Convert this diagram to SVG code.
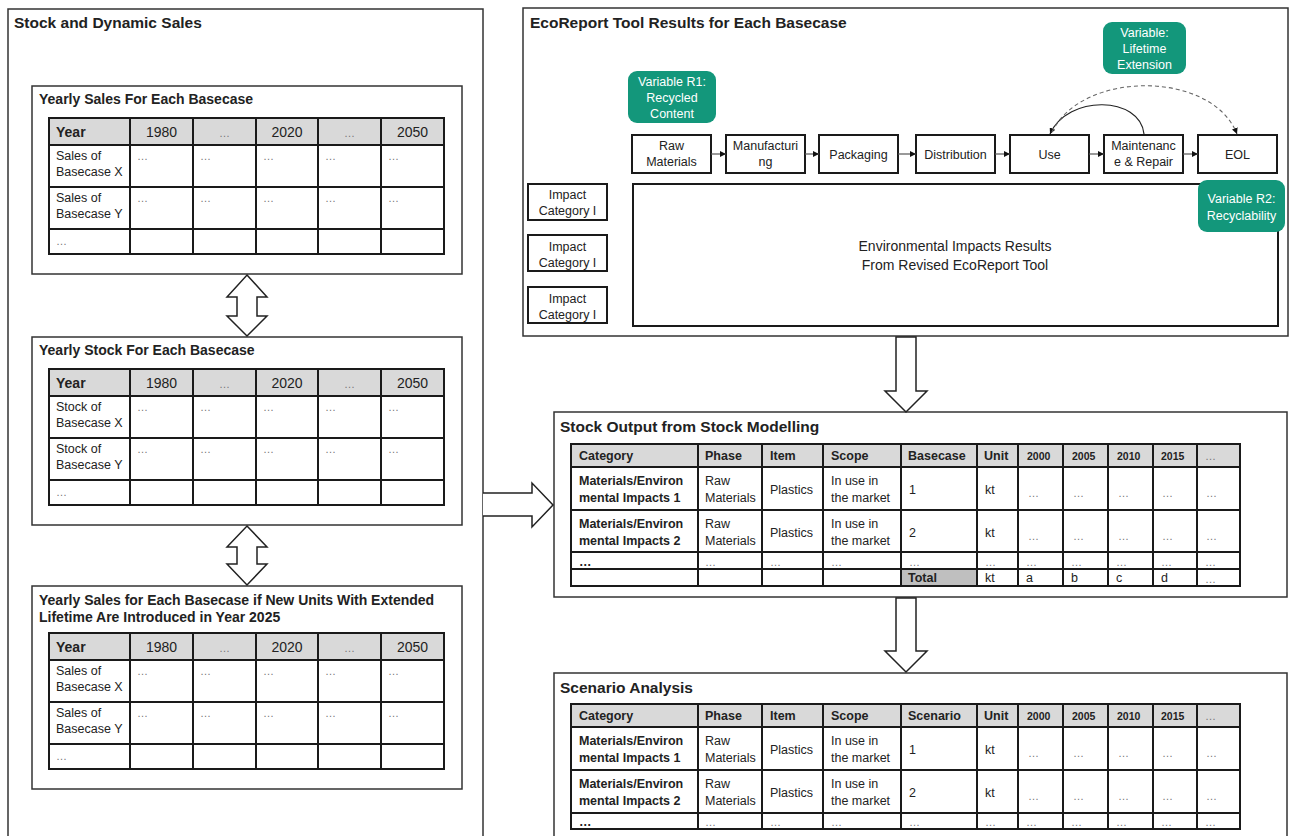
<svg xmlns="http://www.w3.org/2000/svg" xmlns:xlink="http://www.w3.org/1999/xlink" width="1290" height="836" viewBox="0 0 1290 836">
<style>
.box{fill:#fff;stroke:#333;stroke-width:1.5}
.pbox{fill:#fff;stroke:#1a1a1a;stroke-width:2}
.grid{fill:none;stroke:#1a1a1a;stroke-width:2}
.hdr{fill:#d9d9d9}
.tot{fill:#bfbfbf}
.big{fill:#fff;stroke:#222;stroke-width:1.5}
.gr{fill:#13977b}
text{font-family:"Liberation Sans",Arial,sans-serif;fill:#222}
.title{font-weight:bold;font-size:15.5px}
.sub{font-weight:bold;font-size:14px}
.c{font-size:12.5px}
.cm{font-size:12.5px;text-anchor:middle}
.b{font-size:12.5px;font-weight:bold}
.yr{font-size:10.5px;font-weight:bold}
.hy{font-size:14px;text-anchor:middle}
.dots{font-size:11px;fill:#777}
.dm{font-size:11px;fill:#777;text-anchor:middle}
.w{fill:#fff;font-size:12.5px;text-anchor:middle}
.env{font-size:14px;text-anchor:middle}
.conn{stroke:#555;stroke-width:1.2;fill:none}
</style>
<defs>
<marker id="ah" viewBox="0 0 10 10" refX="10" refY="5" markerWidth="6" markerHeight="6" markerUnits="userSpaceOnUse" orient="auto"><path d="M0,0 L10,5 L0,10 Z" fill="#111"/></marker>
<g id="ygrid">
<rect class="hdr" x="0" y="0" width="395" height="27"/>
<rect class="grid" x="0" y="0" width="395" height="136"/>
<path class="grid" d="M0,27 H395 M0,69 H395 M0,111 H395 M81,0 V136 M144,0 V136 M207,0 V136 M269,0 V136 M332,0 V136"/>
<text class="sub" x="7" y="19">Year</text>
<text class="hy" x="112.5" y="19">1980</text>
<text class="dm" x="175.5" y="19">…</text>
<text class="hy" x="238" y="19">2020</text>
<text class="dm" x="300.5" y="19">…</text>
<text class="hy" x="363.5" y="19">2050</text>
<text class="dots" x="88" y="42">…</text><text class="dots" x="151" y="42">…</text><text class="dots" x="214" y="42">…</text><text class="dots" x="276" y="42">…</text><text class="dots" x="339" y="42">…</text>
<text class="dots" x="88" y="84">…</text><text class="dots" x="151" y="84">…</text><text class="dots" x="214" y="84">…</text><text class="dots" x="276" y="84">…</text><text class="dots" x="339" y="84">…</text>
<text class="dots" x="7" y="127">…</text>
</g>
</defs>
<rect width="1290" height="836" fill="#fff"/>

<g id="stock-dynamic-sales">
<rect class="box" x="8" y="9" width="475" height="845"/>
<text class="title" x="14" y="28">Stock and Dynamic Sales</text>
</g>

<g id="yearly-sales">
<rect class="box" x="32" y="86" width="430" height="188"/>
<text class="sub" x="39" y="104">Yearly Sales For Each Basecase</text>
<use xlink:href="#ygrid" x="49" y="118"/>
<text class="c" x="56" y="160">Sales of</text><text class="c" x="56" y="176">Basecase X</text>
<text class="c" x="56" y="202">Sales of</text><text class="c" x="56" y="218">Basecase Y</text>
</g>

<g id="yearly-stock">
<rect class="box" x="32" y="337" width="430" height="188"/>
<text class="sub" x="39" y="355">Yearly Stock For Each Basecase</text>
<use xlink:href="#ygrid" x="49" y="369"/>
<text class="c" x="56" y="411">Stock of</text><text class="c" x="56" y="427">Basecase X</text>
<text class="c" x="56" y="453">Stock of</text><text class="c" x="56" y="469">Basecase Y</text>
</g>

<g id="yearly-sales-extended">
<rect class="box" x="32" y="586" width="430" height="203"/>
<text class="sub" x="39" y="605">Yearly Sales for Each Basecase if New Units With Extended</text>
<text class="sub" x="39" y="622">Lifetime Are Introduced in Year 2025</text>
<use xlink:href="#ygrid" x="49" y="633"/>
<text class="c" x="56" y="675">Sales of</text><text class="c" x="56" y="691">Basecase X</text>
<text class="c" x="56" y="717">Sales of</text><text class="c" x="56" y="733">Basecase Y</text>
</g>

<g id="ecoreport">
<rect class="box" x="523" y="8" width="765" height="328"/>
<text class="title" x="530" y="28">EcoReport Tool Results for Each Basecase</text>
</g>

<g id="var-r1">
<rect class="gr" x="628" y="71" width="88" height="52" rx="9"/>
<text class="w" x="672" y="86">Variable R1:</text>
<text class="w" x="672" y="102">Recycled</text>
<text class="w" x="672" y="118">Content</text>
</g>
<g id="var-lifetime">
<rect class="gr" x="1103" y="22" width="83" height="52" rx="9"/>
<text class="w" x="1144.5" y="37">Variable:</text>
<text class="w" x="1144.5" y="53">Lifetime</text>
<text class="w" x="1144.5" y="69">Extension</text>
</g>

<g id="raw-materials"><rect class="pbox" x="632" y="135" width="79" height="38"/><text class="cm" x="671.5" y="150">Raw</text><text class="cm" x="671.5" y="166">Materials</text></g>
<g id="manufacturing"><rect class="pbox" x="726" y="135" width="79" height="38"/><text class="cm" x="765.5" y="150">Manufacturi</text><text class="cm" x="765.5" y="166">ng</text></g>
<g id="packaging"><rect class="pbox" x="819" y="135" width="79" height="38"/><text class="cm" x="858.5" y="159">Packaging</text></g>
<g id="distribution"><rect class="pbox" x="916" y="135" width="79" height="38"/><text class="cm" x="955.5" y="159">Distribution</text></g>
<g id="use"><rect class="pbox" x="1010" y="135" width="79" height="38"/><text class="cm" x="1049.5" y="159">Use</text></g>
<g id="maintenance"><rect class="pbox" x="1104" y="135" width="79" height="38"/><text class="cm" x="1143.5" y="150">Maintenanc</text><text class="cm" x="1143.5" y="166">e &amp; Repair</text></g>
<g id="eol"><rect class="pbox" x="1198" y="135" width="79" height="38"/><text class="cm" x="1237.5" y="159">EOL</text></g>

<g id="impact-1"><rect class="pbox" x="528" y="184" width="79" height="36"/><text class="cm" x="567.5" y="199">Impact</text><text class="cm" x="567.5" y="215">Category I</text></g>
<g id="impact-2"><rect class="pbox" x="528" y="235" width="79" height="36"/><text class="cm" x="567.5" y="251">Impact</text><text class="cm" x="567.5" y="267">Category I</text></g>
<g id="impact-3"><rect class="pbox" x="528" y="287" width="79" height="36"/><text class="cm" x="567.5" y="303">Impact</text><text class="cm" x="567.5" y="319">Category I</text></g>

<g id="env-results">
<rect class="pbox" x="633" y="184" width="645" height="142"/>
<text class="env" x="955" y="251">Environmental Impacts Results</text>
<text class="env" x="955" y="270">From Revised EcoReport Tool</text>
</g>
<g id="var-r2">
<rect class="gr" x="1198" y="180" width="87" height="52" rx="9"/>
<text class="w" x="1241.5" y="203">Variable R2:</text>
<text class="w" x="1241.5" y="220">Recyclability</text>
</g>

<g id="stock-output">
<rect class="box" x="554" y="412" width="733" height="185"/>
<text class="title" x="560" y="432">Stock Output from Stock Modelling</text>
<rect class="hdr" x="571" y="444" width="669" height="23"/>
<rect class="tot" x="901" y="569" width="76" height="17"/>
<rect class="grid" x="571" y="444" width="669" height="142"/>
<path class="grid" d="M571,467 H1240 M571,510 H1240 M571,552 H1240 M571,569 H1240 M698,444 V586 M762,444 V586 M823,444 V586 M901,444 V586 M977,444 V586 M1018,444 V586 M1063,444 V586 M1108,444 V586 M1153,444 V586 M1197,444 V586"/>
<text class="b" x="579" y="460">Category</text><text class="b" x="705" y="460">Phase</text><text class="b" x="770" y="460">Item</text><text class="b" x="831" y="460">Scope</text><text class="b" x="908" y="460">Basecase</text><text class="b" x="984" y="460">Unit</text>
<text class="yr" x="1027" y="460">2000</text><text class="yr" x="1072" y="460">2005</text><text class="yr" x="1117" y="460">2010</text><text class="yr" x="1161" y="460">2015</text><text class="dots" x="1205" y="460">…</text>
<text class="b" x="579" y="485">Materials/Environ</text><text class="b" x="579" y="502">mental Impacts 1</text>
<text class="c" x="705" y="485">Raw</text><text class="c" x="705" y="502">Materials</text>
<text class="c" x="770" y="494">Plastics</text>
<text class="c" x="831" y="485">In use in</text><text class="c" x="831" y="502">the market</text>
<text class="c" x="909" y="494">1</text><text class="c" x="985" y="494">kt</text>
<text class="dots" x="1028" y="497">…</text><text class="dots" x="1073" y="497">…</text><text class="dots" x="1118" y="497">…</text><text class="dots" x="1162" y="497">…</text><text class="dots" x="1206" y="497">…</text>
<text class="b" x="579" y="528">Materials/Environ</text><text class="b" x="579" y="545">mental Impacts 2</text>
<text class="c" x="705" y="528">Raw</text><text class="c" x="705" y="545">Materials</text>
<text class="c" x="770" y="537">Plastics</text>
<text class="c" x="831" y="528">In use in</text><text class="c" x="831" y="545">the market</text>
<text class="c" x="909" y="537">2</text><text class="c" x="985" y="537">kt</text>
<text class="dots" x="1028" y="540">…</text><text class="dots" x="1073" y="540">…</text><text class="dots" x="1118" y="540">…</text><text class="dots" x="1162" y="540">…</text><text class="dots" x="1206" y="540">…</text>
<text class="b" x="579" y="566">…</text><text class="dots" x="705" y="566">…</text><text class="dots" x="770" y="566">…</text><text class="dots" x="831" y="566">…</text><text class="dots" x="909" y="566">…</text><text class="dots" x="985" y="566">…</text><text class="dots" x="1026" y="566">…</text><text class="dots" x="1071" y="566">…</text><text class="dots" x="1116" y="566">…</text><text class="dots" x="1161" y="566">…</text><text class="dots" x="1205" y="566">…</text>
<text class="b" x="908" y="582">Total</text><text class="c" x="985" y="582">kt</text><text class="c" x="1026" y="582">a</text><text class="c" x="1071" y="582">b</text><text class="c" x="1116" y="582">c</text><text class="c" x="1161" y="582">d</text><text class="dots" x="1205" y="583">…</text>
</g>

<g id="scenario-analysis">
<rect class="box" x="554" y="673" width="733" height="180"/>
<text class="title" x="560" y="693">Scenario Analysis</text>
<rect class="hdr" x="571" y="704" width="669" height="23"/>
<rect class="grid" x="571" y="704" width="669" height="125"/>
<path class="grid" d="M571,727 H1240 M571,770 H1240 M571,813 H1240 M698,704 V829 M762,704 V829 M823,704 V829 M901,704 V829 M977,704 V829 M1018,704 V829 M1063,704 V829 M1108,704 V829 M1153,704 V829 M1197,704 V829"/>
<text class="b" x="579" y="720">Category</text><text class="b" x="705" y="720">Phase</text><text class="b" x="770" y="720">Item</text><text class="b" x="831" y="720">Scope</text><text class="b" x="908" y="720">Scenario</text><text class="b" x="984" y="720">Unit</text>
<text class="yr" x="1027" y="720">2000</text><text class="yr" x="1072" y="720">2005</text><text class="yr" x="1117" y="720">2010</text><text class="yr" x="1161" y="720">2015</text><text class="dots" x="1205" y="720">…</text>
<text class="b" x="579" y="745">Materials/Environ</text><text class="b" x="579" y="762">mental Impacts 1</text>
<text class="c" x="705" y="745">Raw</text><text class="c" x="705" y="762">Materials</text>
<text class="c" x="770" y="754">Plastics</text>
<text class="c" x="831" y="745">In use in</text><text class="c" x="831" y="762">the market</text>
<text class="c" x="909" y="754">1</text><text class="c" x="985" y="754">kt</text>
<text class="dots" x="1028" y="757">…</text><text class="dots" x="1073" y="757">…</text><text class="dots" x="1118" y="757">…</text><text class="dots" x="1162" y="757">…</text><text class="dots" x="1206" y="757">…</text>
<text class="b" x="579" y="788">Materials/Environ</text><text class="b" x="579" y="805">mental Impacts 2</text>
<text class="c" x="705" y="788">Raw</text><text class="c" x="705" y="805">Materials</text>
<text class="c" x="770" y="797">Plastics</text>
<text class="c" x="831" y="788">In use in</text><text class="c" x="831" y="805">the market</text>
<text class="c" x="909" y="797">2</text><text class="c" x="985" y="797">kt</text>
<text class="dots" x="1028" y="800">…</text><text class="dots" x="1073" y="800">…</text><text class="dots" x="1118" y="800">…</text><text class="dots" x="1162" y="800">…</text><text class="dots" x="1206" y="800">…</text>
<text class="b" x="579" y="826">…</text><text class="dots" x="705" y="826">…</text><text class="dots" x="770" y="826">…</text><text class="dots" x="831" y="826">…</text><text class="dots" x="909" y="826">…</text><text class="dots" x="985" y="826">…</text><text class="dots" x="1026" y="826">…</text><text class="dots" x="1071" y="826">…</text><text class="dots" x="1116" y="826">…</text><text class="dots" x="1161" y="826">…</text><text class="dots" x="1205" y="826">…</text>
</g>

<g id="connectors">
<path class="big" d="M247,275 L267,297 L257,297 L257,316 L267,316 L247,336 L227,316 L237,316 L237,297 L227,297 Z"/>
<path class="big" d="M247,526 L267,547 L257,547 L257,564 L267,564 L247,585 L227,564 L237,564 L237,547 L227,547 Z"/>
<path class="big" d="M483,493 L532,493 L532,483 L553,505 L532,527 L532,516 L483,516"/>
<path class="big" d="M896,337 L916,337 L916,391 L927,391 L906,412 L885,391 L896,391 Z"/>
<path class="big" d="M896,598 L916,598 L916,651 L927,651 L906,672 L885,651 L896,651 Z"/>
<line class="conn" x1="711" y1="154" x2="726" y2="154" marker-end="url(#ah)"/>
<line class="conn" x1="805" y1="154" x2="819" y2="154" marker-end="url(#ah)"/>
<line class="conn" x1="898" y1="154" x2="916" y2="154" marker-end="url(#ah)"/>
<line class="conn" x1="995" y1="154" x2="1010" y2="154" marker-end="url(#ah)"/>
<line class="conn" x1="1089" y1="154" x2="1104" y2="154" marker-end="url(#ah)"/>
<line class="conn" x1="1183" y1="154" x2="1198" y2="154" marker-end="url(#ah)"/>
<path d="M1144,134 C1140,96 1068,94 1050,134" fill="none" stroke="#222" stroke-width="1.2" marker-end="url(#ah)"/>
<path d="M1052,132 C1082,70 1212,70 1237,134" fill="none" stroke="#666" stroke-width="1.1" stroke-dasharray="4,3" marker-end="url(#ah)"/>
</g>
</svg>
